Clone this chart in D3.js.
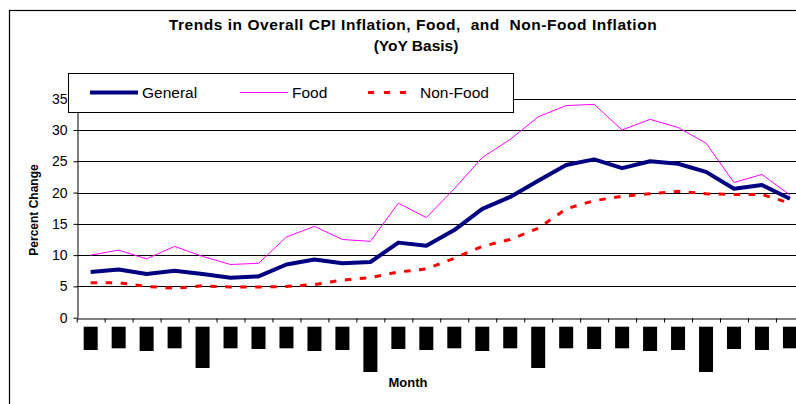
<!DOCTYPE html>
<html><head><meta charset="utf-8">
<script src="https://cdn.jsdelivr.net/npm/d3@7/dist/d3.min.js"></script>
<style>
html,body{margin:0;padding:0;background:#fff;overflow:hidden}
svg{display:block}
</style></head>
<body>
<svg id="c" width="796" height="404"></svg>
<script>
// ---- data ----
const months = d3.range(1, 27); // 26 monthly observations
const general = [7.3, 7.7, 7.0, 7.5, 7.0, 6.4, 6.6, 8.5, 9.3, 8.7, 8.9, 12.0, 11.5, 14.0, 17.4, 19.3, 21.9, 24.4, 25.3, 23.9, 25.0, 24.6, 23.3, 20.6, 21.2, 19.0];
const food    = [10.0, 10.8, 9.4, 11.4, 9.8, 8.5, 8.7, 12.9, 14.6, 12.5, 12.2, 18.3, 16.0, 20.6, 25.6, 28.5, 32.1, 33.9, 34.1, 30.0, 31.7, 30.4, 27.9, 21.6, 22.9, 19.6];
const nonFood = [5.6, 5.6, 5.0, 4.7, 5.1, 4.9, 4.9, 5.0, 5.3, 6.0, 6.4, 7.3, 7.8, 9.5, 11.4, 12.5, 14.3, 17.4, 18.7, 19.4, 19.8, 20.2, 19.8, 19.7, 19.7, 18.3];
const yTicks = [0, 5, 10, 15, 20, 25, 30, 35];
// month labels rendered as solid blocks in the source; relative label lengths
const labelLength = [23.3, 21.6, 24.3, 21.6, 41.3, 21.6, 22.3, 21.6, 24.3, 23.3, 45.3, 22.3, 23.3, 21.6, 24.3, 21.6, 41.3, 21.6, 22.3, 21.6, 24.3, 23.3, 45.3, 22.3, 23.3, 21.6];
const titleLines = ["Trends in Overall CPI Inflation, Food,  and  Non-Food Inflation", "(YoY Basis)"];
const seriesNames = ["General", "Food", "Non-Food"];

// ---- layout ----
const svg = d3.select("#c");
const font = "'Liberation Sans', Arial, sans-serif";
const L = 76.7, T = 98.7, B = 317.7, step = 27.97;
const R = L + step * months.length;

const x = d3.scaleLinear().domain([0, months.length]).range([L, R]);
const y = d3.scaleLinear().domain([0, 35]).range([B, T]);
const depth = d3.scaleLinear().domain([0, 1]).range([0, 1]);

// outer frame
svg.append("rect").attr("x", 9.5).attr("y", 10.5).attr("width", 820).attr("height", 420)
  .attr("fill", "none").attr("stroke", "#000").attr("stroke-width", 1.2);

// title
svg.append("text").attr("x", 413).attr("y", 30).attr("text-anchor", "middle")
  .style("white-space", "pre").style("letter-spacing", "0.55px")
  .attr("font-family", font).attr("font-weight", "bold")
  .attr("font-size", 15.5).text(titleLines[0]);
svg.append("text").attr("x", 416).attr("y", 51).attr("text-anchor", "middle")
  .attr("font-family", font).attr("font-weight", "bold").attr("font-size", 15.5).text(titleLines[1]);

// gridlines
svg.append("g").selectAll("line").data(yTicks.filter(d => d > 0)).join("line")
  .attr("x1", L).attr("x2", R + 10)
  .attr("y1", d => Math.round(y(d)) + 0.5).attr("y2", d => Math.round(y(d)) + 0.5)
  .attr("stroke", "#000").attr("stroke-width", 1);

// y axis
const yAxis = svg.append("g").attr("transform", `translate(${Math.round(L) + 0.5},0)`)
  .call(d3.axisLeft(y).tickValues(yTicks).tickSize(4).tickPadding(6).tickSizeOuter(0));
yAxis.select(".domain").attr("stroke", "#000");
yAxis.selectAll("text").attr("font-family", font).attr("font-size", 14).attr("fill", "#000");

// x axis
const xAxis = svg.append("g").attr("transform", `translate(0,${Math.round(B) + 0.5})`)
  .call(d3.axisBottom(x).tickValues(d3.range(0, months.length + 1)).tickSize(4).tickFormat("").tickSizeOuter(0));
xAxis.select(".domain").attr("stroke", "#000");

// month label blocks
svg.append("g").selectAll("rect").data(labelLength).join("rect")
  .attr("x", (d, i) => x(i + 0.5) - 7).attr("y", B + 9)
  .attr("width", 14).attr("height", d => depth(d)).attr("fill", "#000");

// axis titles
svg.append("text").attr("transform", `translate(38,210) rotate(-90)`).attr("text-anchor", "middle")
  .attr("font-family", font).attr("font-weight", "bold").attr("font-size", 12).text("Percent Change");
svg.append("text").attr("x", 408).attr("y", 387).attr("text-anchor", "middle")
  .attr("font-family", font).attr("font-weight", "bold").attr("font-size", 13).text("Month");

// lines
const line = d3.line().x((d, i) => x(i + 0.5)).y(d => y(d));
svg.append("path").datum(nonFood).attr("d", line).attr("fill", "none")
  .attr("stroke", "#ff0000").attr("stroke-width", 3).attr("stroke-dasharray", "6.5,8.5");
svg.append("path").datum(food).attr("d", line).attr("fill", "none")
  .attr("stroke", "#ff00ff").attr("stroke-width", 1);
svg.append("path").datum(general).attr("d", line).attr("fill", "none")
  .attr("stroke", "#000080").attr("stroke-width", 4).attr("stroke-linejoin", "round");

// legend
const lg = svg.append("g");
lg.append("rect").attr("x", 68.5).attr("y", 73.5).attr("width", 445).attr("height", 39)
  .attr("fill", "#fff").attr("stroke", "#000").attr("stroke-width", 1);
const legendItems = [
  {name: seriesNames[0], x0: 90, color: "#000080", w: 4, dash: null},
  {name: seriesNames[1], x0: 240, color: "#ff00ff", w: 1, dash: null},
  {name: seriesNames[2], x0: 368, color: "#ff0000", w: 3, dash: "6,10"}
];
legendItems.forEach(it => {
  lg.append("line").attr("x1", it.x0).attr("x2", it.x0 + 48).attr("y1", 92.5).attr("y2", 92.5)
    .attr("stroke", it.color).attr("stroke-width", it.w).attr("stroke-dasharray", it.dash);
  lg.append("text").attr("x", it.x0 + 52).attr("y", 98).attr("font-family", font)
    .attr("font-size", 15.5).text(it.name);
});
</script>
</body></html>
